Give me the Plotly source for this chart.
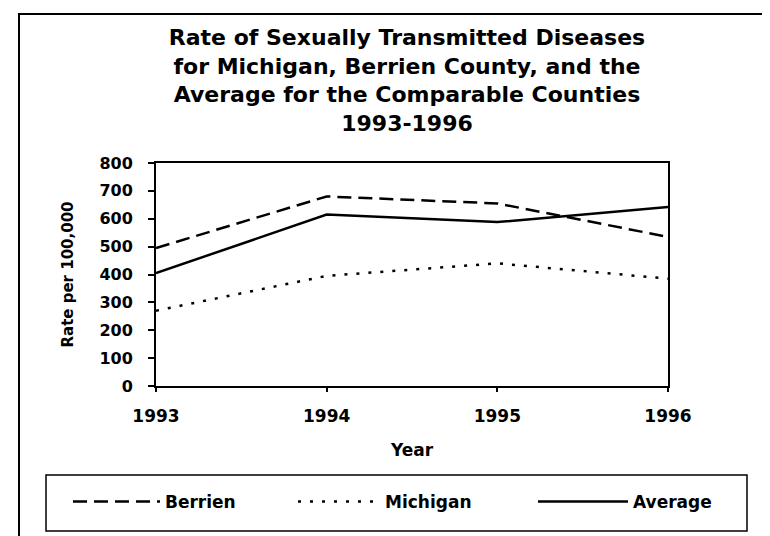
import plotly.graph_objects as go

years = [1993, 1994, 1995, 1996]
berrien = [495, 680, 655, 535]
michigan = [270, 395, 440, 385]
average = [405, 615, 588, 642]
y_ticks = [0, 100, 200, 300, 400, 500, 600, 700, 800]

FONT = "DejaVu Sans"
W, H = 770, 536
L, R, T, B = 148, 110, 155, 158
pw, ph = W - L - R, H - T - B


def px_x(p):
    return (p - L) / pw


def px_y(p):
    return (H - B - p) / ph


def bold(size):
    return dict(family=FONT, size=size, color="black", weight="bold")


fig = go.Figure()
fig.add_trace(go.Scatter(x=years, y=berrien, name="Berrien", mode="lines", legend="legend",
                         line=dict(color="black", width=2.5, dash="14px,7px")))
fig.add_trace(go.Scatter(x=years, y=michigan, name="Michigan", mode="lines", legend="legend2",
                         line=dict(color="black", width=2.5, dash="3px,9px")))
fig.add_trace(go.Scatter(x=years, y=average, name="Average", mode="lines", legend="legend3",
                         line=dict(color="black", width=2.5)))


def leg(xpx, iw):
    return dict(
        orientation="h", x=px_x(xpx), xanchor="left", y=px_y(494), yanchor="middle",
        itemwidth=iw, bgcolor="rgba(0,0,0,0)", borderwidth=0, font=bold(17),
    )


fig.update_layout(
    width=W, height=H,
    margin=dict(l=L, r=R, t=T, b=B),
    paper_bgcolor="white", plot_bgcolor="white",
    font=dict(family=FONT, color="black", weight="bold"),
    title=dict(
        text="Rate of Sexually Transmitted Diseases<br>for Michigan, Berrien County, and the<br>"
             "Average for the Comparable Counties<br>1993-1996",
        font=bold(22),
        x=399 / W, xanchor="center", xref="container",
        y=1 - 37 / H, yanchor="top", yref="container",
    ),
    xaxis=dict(
        range=[1993, 1996], tickvals=years, ticktext=[str(y) for y in years],
        showline=True, linecolor="black", linewidth=2, mirror=True,
        ticks="outside", ticklen=4, tickwidth=1.5, tickcolor="black",
        showgrid=False, zeroline=False,
        tickfont=bold(17),
        ticklabelstandoff=10,
        title=dict(text="Year", standoff=19, font=bold(17)),
    ),
    yaxis=dict(
        range=[0, 800], tickvals=y_ticks,
        showline=True, linecolor="black", linewidth=2, mirror=True,
        ticks="outside", ticklen=6, tickwidth=1.5, tickcolor="black",
        showgrid=False, zeroline=False,
        tickfont=bold(16),
        ticklabelstandoff=12,
        title=dict(text="Rate per 100,000", standoff=22, font=bold(15)),
    ),
    showlegend=True,
    legend=leg(60, 87),
    legend2=leg(285, 82),
    legend3=leg(525, 90),
    shapes=[
        dict(type="rect", xref="paper", yref="paper",
             x0=px_x(11), x1=px_x(800), y0=px_y(6), y1=px_y(560),
             line=dict(color="black", width=2), layer="below"),
        dict(type="rect", xref="paper", yref="paper",
             x0=px_x(38), x1=px_x(739), y0=px_y(467), y1=px_y(523),
             line=dict(color="black", width=1.5), layer="below"),
    ],
)

fig.write_html("out.html")
